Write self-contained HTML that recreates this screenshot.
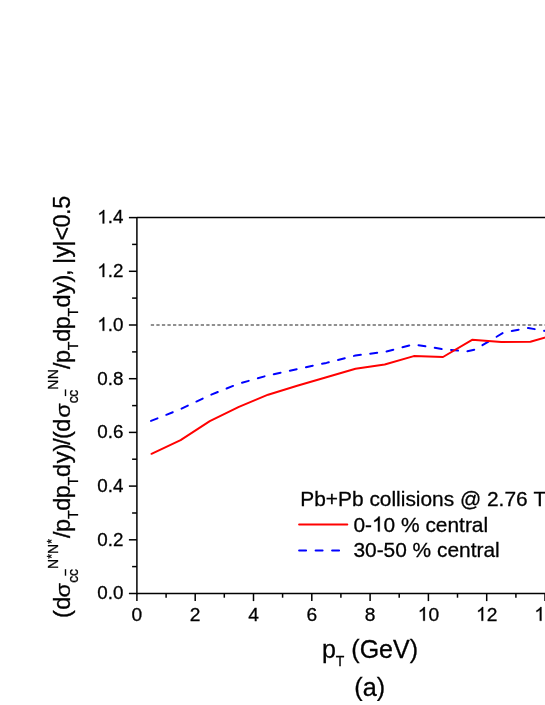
<!DOCTYPE html>
<html><head><meta charset="utf-8"><title>chart</title>
<style>
html,body{margin:0;padding:0;background:#fff;}
body{width:545px;height:705px;overflow:hidden;}
svg{display:block;}
text{font-family:"Liberation Sans",sans-serif;fill:#000;white-space:pre;font-kerning:none;stroke:#000;stroke-width:0.3px;}
.tk{font-size:19.3px;}
.lg{font-size:20.9px;}
.ax{font-size:23.6px;}
.sb{font-size:14.0px;}
</style></head><body>
<svg width="545" height="705" viewBox="0 0 545 705">
<rect width="545" height="705" fill="#fff"/>
<g opacity="0.999">
<line x1="150.8" y1="325.1" x2="560" y2="325.1" stroke="#6c6c6c" stroke-width="1.5" stroke-dasharray="3.3 2.245"/>
<polyline points="151.0,420.9 180.6,409.1 209.8,395.2 238.9,383.6 268.1,375.4 297.2,369.1 326.4,362.9 355.5,355.5 384.7,351.9 413.8,344.4 443.0,349.2 467.0,351.4 475.0,349.6 503.7,332.5 528.2,327.9 559.6,333.7" fill="none" stroke="#0000ff" stroke-width="2" stroke-dasharray="7 9.455" stroke-linecap="round" stroke-linejoin="round"/>
<polyline points="151.5,453.8 180.6,440.1 209.8,421.1 238.9,406.8 268.1,394.7 297.2,385.8 326.4,377.3 355.5,368.8 384.7,364.5 413.8,356.1 443.0,357.0 472.1,339.8 501.3,342.1 530.4,341.7 559.6,333.4" fill="none" stroke="#ff0000" stroke-width="2" stroke-linecap="round" stroke-linejoin="round"/>
<g stroke="#000" stroke-width="1.5" fill="none">
<line x1="136.9" y1="216.9" x2="136.9" y2="594.2"/>
<line x1="136.9" y1="217.6" x2="560" y2="217.6"/>
<line x1="136.9" y1="593.5" x2="560" y2="593.5"/>
<line x1="128.9" y1="593.5" x2="136.9" y2="593.5"/>
<line x1="132.1" y1="566.6" x2="136.9" y2="566.6"/>
<line x1="128.9" y1="539.8" x2="136.9" y2="539.8"/>
<line x1="132.1" y1="513.0" x2="136.9" y2="513.0"/>
<line x1="128.9" y1="486.1" x2="136.9" y2="486.1"/>
<line x1="132.1" y1="459.2" x2="136.9" y2="459.2"/>
<line x1="128.9" y1="432.4" x2="136.9" y2="432.4"/>
<line x1="132.1" y1="405.6" x2="136.9" y2="405.6"/>
<line x1="128.9" y1="378.7" x2="136.9" y2="378.7"/>
<line x1="132.1" y1="351.9" x2="136.9" y2="351.9"/>
<line x1="128.9" y1="325.0" x2="136.9" y2="325.0"/>
<line x1="132.1" y1="298.1" x2="136.9" y2="298.1"/>
<line x1="128.9" y1="271.3" x2="136.9" y2="271.3"/>
<line x1="132.1" y1="244.4" x2="136.9" y2="244.4"/>
<line x1="128.9" y1="217.6" x2="136.9" y2="217.6"/>
<line x1="136.9" y1="593.5" x2="136.9" y2="601.1"/>
<line x1="166.1" y1="593.5" x2="166.1" y2="597.7"/>
<line x1="195.2" y1="593.5" x2="195.2" y2="601.1"/>
<line x1="224.3" y1="593.5" x2="224.3" y2="597.7"/>
<line x1="253.5" y1="593.5" x2="253.5" y2="601.1"/>
<line x1="282.6" y1="593.5" x2="282.6" y2="597.7"/>
<line x1="311.8" y1="593.5" x2="311.8" y2="601.1"/>
<line x1="340.9" y1="593.5" x2="340.9" y2="597.7"/>
<line x1="370.1" y1="593.5" x2="370.1" y2="601.1"/>
<line x1="399.2" y1="593.5" x2="399.2" y2="597.7"/>
<line x1="428.4" y1="593.5" x2="428.4" y2="601.1"/>
<line x1="457.5" y1="593.5" x2="457.5" y2="597.7"/>
<line x1="486.7" y1="593.5" x2="486.7" y2="601.1"/>
<line x1="515.9" y1="593.5" x2="515.9" y2="597.7"/>
<line x1="545.0" y1="593.5" x2="545.0" y2="601.1"/>
<line x1="574.1" y1="593.5" x2="574.1" y2="597.7"/>
</g>
<text style="font-size:18.8px" x="97.27" y="599.30">0.0</text>
<text style="font-size:18.8px" x="97.27" y="545.60">0.2</text>
<text style="font-size:18.8px" x="97.27" y="491.90">0.4</text>
<text style="font-size:18.8px" x="97.27" y="438.20">0.6</text>
<text style="font-size:18.8px" x="97.27" y="384.50">0.8</text>
<path d="M763 0H583V1147Q518 1085 412.5 1023T223 930V1104Q374 1175 487 1276T647 1472H763Z" transform="translate(97.27,330.80) scale(0.00918,-0.00918)" fill="#000" stroke="#000" stroke-width="33"/>
<text style="font-size:18.8px" x="107.72" y="330.80">.0</text>
<path d="M763 0H583V1147Q518 1085 412.5 1023T223 930V1104Q374 1175 487 1276T647 1472H763Z" transform="translate(97.27,277.10) scale(0.00918,-0.00918)" fill="#000" stroke="#000" stroke-width="33"/>
<text style="font-size:18.8px" x="107.72" y="277.10">.2</text>
<path d="M763 0H583V1147Q518 1085 412.5 1023T223 930V1104Q374 1175 487 1276T647 1472H763Z" transform="translate(97.27,223.40) scale(0.00918,-0.00918)" fill="#000" stroke="#000" stroke-width="33"/>
<text style="font-size:18.8px" x="107.72" y="223.40">.4</text>
<text style="font-size:19.2px" x="131.56" y="620.80">0</text>
<text style="font-size:19.2px" x="189.86" y="620.80">2</text>
<text style="font-size:19.2px" x="248.16" y="620.80">4</text>
<text style="font-size:19.2px" x="306.46" y="620.80">6</text>
<text style="font-size:19.2px" x="364.76" y="620.80">8</text>
<path d="M763 0H583V1147Q518 1085 412.5 1023T223 930V1104Q374 1175 487 1276T647 1472H763Z" transform="translate(417.72,620.80) scale(0.00937,-0.00937)" fill="#000" stroke="#000" stroke-width="32"/>
<text style="font-size:19.2px" x="428.40" y="620.80">0</text>
<path d="M763 0H583V1147Q518 1085 412.5 1023T223 930V1104Q374 1175 487 1276T647 1472H763Z" transform="translate(476.02,620.80) scale(0.00937,-0.00937)" fill="#000" stroke="#000" stroke-width="32"/>
<text style="font-size:19.2px" x="486.70" y="620.80">2</text>
<path d="M763 0H583V1147Q518 1085 412.5 1023T223 930V1104Q374 1175 487 1276T647 1472H763Z" transform="translate(534.32,620.80) scale(0.00937,-0.00937)" fill="#000" stroke="#000" stroke-width="32"/>
<text style="font-size:19.2px" x="545.00" y="620.80">4</text>
<text class="lg" x="300.3" y="505.5">Pb+Pb collisions @ 2.76 TeV</text>
<line x1="299.1" y1="524.4" x2="347.3" y2="524.4" stroke="#ff0000" stroke-width="2" stroke-linecap="round"/>
<text style="font-size:20.9px" x="353.40" y="531.60">0-</text>
<path d="M763 0H583V1147Q518 1085 412.5 1023T223 930V1104Q374 1175 487 1276T647 1472H763Z" transform="translate(371.98,531.60) scale(0.01021,-0.01021)" fill="#000" stroke="#000" stroke-width="29"/>
<text style="font-size:20.9px" x="383.61" y="531.60">0 % central</text>
<line x1="299.1" y1="550.5" x2="347.3" y2="550.5" stroke="#0000ff" stroke-width="2" stroke-dasharray="7 9.5" stroke-linecap="round"/>
<text class="lg" x="353.4" y="557.4">30-50 % central</text>
<text style="font-size:25px" x="321.9" y="658.2" id="xl">p<tspan class="sb" dy="7.9">T</tspan><tspan dy="-7.9"> (GeV)</tspan></text>
<text style="font-size:25.2px" x="354.3" y="695.7" id="al">(a)</text>
<text class="ax" id="yl" transform="translate(69.7,619.0) rotate(-90)"><tspan x="1.01" y="0.00">(</tspan><tspan x="9.15" y="0.00">d</tspan><tspan class="sb" x="36.29" y="8.30">c</tspan><tspan class="sb" x="43.09" y="8.30">c</tspan><tspan class="sb" x="49.99" y="-11.45">N</tspan><tspan style="font-size:12.0px" x="60.36" y="-13.35">*</tspan><tspan class="sb" x="65.04" y="-11.45">N</tspan><tspan style="font-size:12.0px" x="75.26" y="-13.35">*</tspan><tspan x="81.02" y="0.00">/</tspan><tspan x="87.12" y="0.00">p</tspan><tspan class="sb" x="99.93" y="8.30">T</tspan><tspan x="108.20" y="0.00">d</tspan><tspan x="120.87" y="0.00">p</tspan><tspan class="sb" x="133.63" y="8.30">T</tspan><tspan x="141.95" y="0.00">d</tspan><tspan x="155.74" y="0.00">y</tspan><tspan x="167.53" y="0.00">)</tspan><tspan x="174.22" y="0.00">/</tspan><tspan x="179.91" y="0.00">(</tspan><tspan x="187.25" y="0.00">d</tspan><tspan class="sb" x="215.84" y="8.30">c</tspan><tspan class="sb" x="222.34" y="8.30">c</tspan><tspan class="sb" x="229.19" y="-11.45">N</tspan><tspan class="sb" x="239.84" y="-11.45">N</tspan><tspan x="250.07" y="0.00">/</tspan><tspan x="256.07" y="0.00">p</tspan><tspan class="sb" x="268.68" y="8.30">T</tspan><tspan x="277.25" y="0.00">d</tspan><tspan x="289.77" y="0.00">p</tspan><tspan class="sb" x="302.53" y="8.30">T</tspan><tspan x="311.50" y="0.00">d</tspan><tspan x="324.99" y="0.00">y</tspan><tspan x="336.53" y="0.00">)</tspan><tspan x="342.92" y="0.00">,</tspan><tspan x="355.13" y="0.00">|</tspan><tspan x="361.44" y="0.00">y</tspan><tspan x="372.38" y="0.00">|</tspan><tspan x="378.50" y="0.00">&lt;</tspan><tspan x="391.49" y="0.00">0</tspan><tspan x="404.02" y="0.00">.</tspan><tspan x="410.36" y="0.00">5</tspan></text>
<text class="ax" transform="translate(69.70,597.40) rotate(-90) scale(1,0.84)">σ</text>
<text class="ax" transform="translate(69.70,417.75) rotate(-90) scale(1,0.84)">σ</text>
<line x1="65.5" y1="575.7" x2="65.5" y2="569.2" stroke="#000" stroke-width="1.4"/>
<line x1="65.5" y1="396.1" x2="65.5" y2="389.4" stroke="#000" stroke-width="1.4"/>
</g></svg></body></html>
